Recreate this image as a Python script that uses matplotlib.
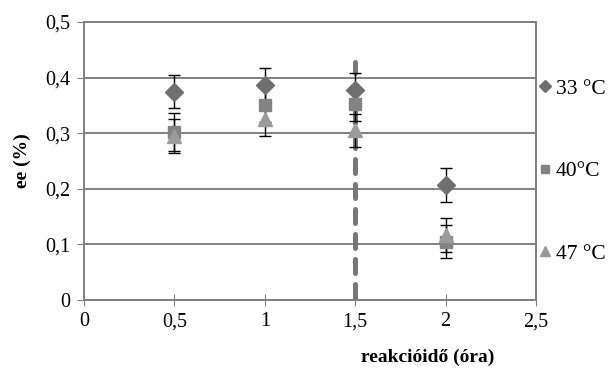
import matplotlib
matplotlib.use("Agg")
import matplotlib.pyplot as plt

# data
x_vals = [0.5, 1.0, 1.5, 2.0]
ee_33 = [0.375, 0.387, 0.378, 0.207]
ee_40 = [0.302, 0.351, 0.352, 0.105]
ee_47 = [0.295, 0.325, 0.305, 0.117]
err_33 = [0.03, 0.03, 0.03, 0.03]
err_40 = [0.034, 0.03, 0.03, 0.03]
err_47 = [0.031, 0.03, 0.03, 0.03]
labels = ["33 °C", "40°C", "47 °C"]
x_ticks = [0, 0.5, 1, 1.5, 2, 2.5]
x_ticklabels = ["0", "0,5", "1", "1,5", "2", "2,5"]
y_ticks = [0, 0.1, 0.2, 0.3, 0.4, 0.5]
y_ticklabels = ["0", "0,1", "0,2", "0,3", "0,4", "0,5"]
cut_x = [1.5, 1.5]
cut_y = [0.004, 0.428]

plt.rcParams['font.family'] = ['Liberation Serif', 'DejaVu Serif']

fig = plt.figure(figsize=(6.15, 3.71), dpi=100)
ax = fig.add_axes([84 / 615, 71 / 371, 452 / 615, 278 / 371])

ax.set_xlim(0, 2.5)
ax.set_ylim(0, 0.5)
ax.set_xticks(x_ticks)
ax.set_xticklabels(x_ticklabels)
ax.set_yticks(y_ticks)
ax.set_yticklabels(y_ticklabels)
ax.yaxis.grid(True, color='#808080', linewidth=1.4)
ax.set_axisbelow(True)
for s in ax.spines.values():
    s.set_color('#808080')
    s.set_linewidth(1.4)
ax.tick_params(axis='x', direction='inout', length=8, color='#808080', labelsize=14.5, pad=5)
ax.tick_params(axis='y', direction='out', length=5, color='#808080', labelsize=14.5, pad=5)

# dashed separator
ax.plot(cut_x, cut_y, color='#777777', linewidth=3.6, linestyle=(0, (2.8, 2.2)), zorder=2,
        dash_capstyle='round')

ek = dict(fmt='none', ecolor='black', elinewidth=1, capsize=4.5, capthick=1, zorder=3)
ax.errorbar(x_vals, ee_33, yerr=err_33, **ek)
ax.errorbar(x_vals, ee_40, yerr=err_40, **ek)
ax.errorbar(x_vals, ee_47, yerr=err_47, **ek)

ax.plot(x_vals, ee_33, linestyle='none', marker='D', markersize=9, color='#6f6f6f', label=labels[0], zorder=4)
ax.plot(x_vals, ee_40, linestyle='none', marker='s', markersize=8.5, color='#838383', label=labels[1], zorder=4)
ax.plot(x_vals, ee_47, linestyle='none', marker='^', markersize=10, color='#9b9b9b', label=labels[2], zorder=4)

ax.set_ylabel('ee (%)', fontsize=14, fontweight='bold', labelpad=10)
fig.text(428 / 615, 1 - 357 / 371, 'reakcióidő (óra)', fontsize=14, fontweight='bold',
         ha='center', va='center')

leg = ax.legend(loc='upper left', bbox_to_anchor=(0.975, 0.85), frameon=False, fontsize=15.5,
                labelspacing=2.9, handlelength=0.5, handletextpad=0.25, borderaxespad=0.3,
                markerscale=0.7)

fig.savefig('out.png', dpi=100)
